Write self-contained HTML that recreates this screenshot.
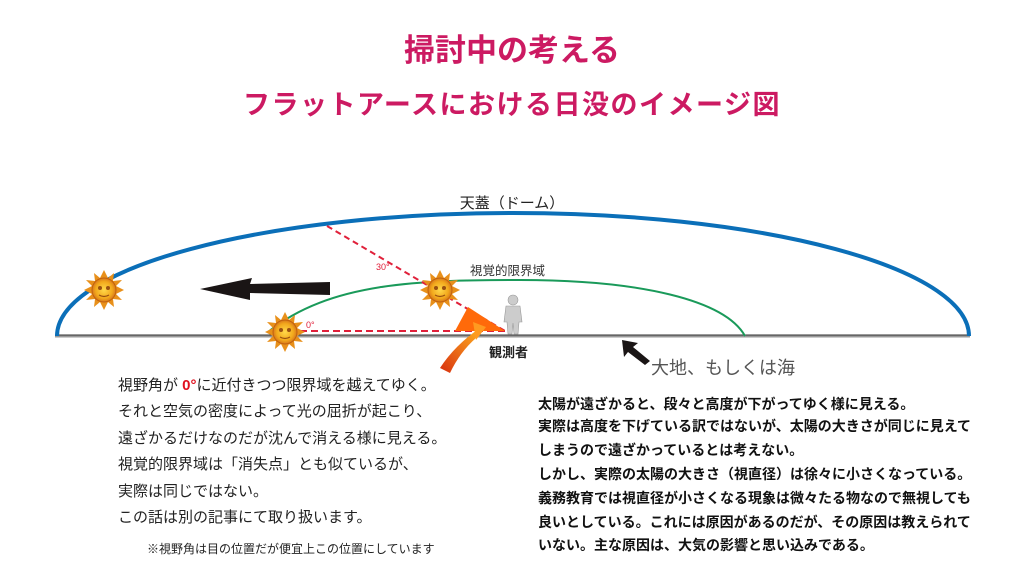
<!DOCTYPE html>
<html><head><meta charset="utf-8">
<style>
html,body{margin:0;padding:0;background:#fff;}
svg{display:block;}
text{font-family:"Liberation Sans","Noto Sans CJK JP",sans-serif;}
</style></head>
<body>
<svg width="1024" height="576" viewBox="0 0 1024 576" xmlns="http://www.w3.org/2000/svg">
<defs>
<radialGradient id="sg" cx="50%" cy="50%" r="50%">
<stop offset="0" stop-color="#ffd84a"/><stop offset="0.7" stop-color="#f2a81c"/><stop offset="1" stop-color="#d9781a"/>
</radialGradient>
<linearGradient id="og" x1="0" y1="1" x2="1" y2="0">
<stop offset="0" stop-color="#d8300f"/><stop offset="1" stop-color="#ffb020"/>
</linearGradient>
<g id="sun">
<polygon points="0,-20 4,-12 10,-17 9,-9 18,-10 12,-4 20,0 12,4 18,10 9,9 10,17 4,12 0,20 -4,12 -10,17 -9,9 -18,10 -12,4 -20,0 -12,-4 -18,-10 -9,-9 -10,-17 -4,-12" fill="#e8901a"/>
<circle r="12" fill="url(#sg)" stroke="#c06010" stroke-width="1"/>
<circle cx="-4" cy="-2" r="2" fill="#9a5010"/><circle cx="4" cy="-2" r="2" fill="#9a5010"/>
<path d="M-5 5 Q0 8 5 5" stroke="#9a5010" fill="none" stroke-width="1.2"/>
</g>
</defs>
<text x="512" y="61" text-anchor="middle" font-size="31" font-weight="bold" fill="#cc1a62">掃討中の考える</text>
<text x="512" y="114" text-anchor="middle" font-size="27" font-weight="bold" fill="#cc1a62" letter-spacing="1.5">フラットアースにおける日没のイメージ図</text>

<text x="512" y="208" text-anchor="middle" font-size="15" fill="#222">天蓋（ドーム）</text>
<line x1="55" y1="336" x2="970" y2="336" stroke="#999" stroke-width="3"/>
<line x1="55" y1="335" x2="970" y2="335" stroke="#333" stroke-width="1"/>
<path d="M57 336 A456 123 0 0 1 969 336" fill="none" stroke="#0b6fb8" stroke-width="4"/>
<path d="M268 332 C330 282 420 280 520 280 C640 280 725 300 745 336" fill="none" stroke="#1a9a5a" stroke-width="2"/>
<text x="470" y="275" font-size="12.5" fill="#333">視覚的限界域</text>
<line x1="300" y1="331" x2="505" y2="331" stroke="#e0203a" stroke-width="2" stroke-dasharray="7,4"/>
<line x1="327" y1="226" x2="505" y2="331" stroke="#e0203a" stroke-width="2" stroke-dasharray="6,4"/>
<text x="376" y="270" font-size="9" fill="#e0203a">30°</text>
<text x="306" y="328" font-size="9" fill="#e0203a">0°</text>
<polygon points="468,307 455,331 505,331" fill="#ff6a0a"/>
<path d="M440 368 Q455 345 480 328 L476 338 Q460 352 450 373 Z" fill="url(#og)"/>
<path d="M473 322 L486 327 L476 340 Z" fill="#ff9a20"/>
<g fill="#ccc" stroke="#999" stroke-width="0.6">
<circle cx="513" cy="300" r="5"/>
<path d="M506 306 L520 306 L522 322 L519 322 L518 334 L514 334 L513 323 L512 334 L508 334 L507 322 L504 322 Z"/>
</g>
<text x="489" y="357" font-size="13" font-weight="bold" fill="#222">観測者</text>
<polygon points="200,289 252,278 250,284 330,282 330,295 250,293 250,300" fill="#1a1515"/>
<polygon points="622,340 638,343 633,347 650,361 645,365 628,352 624,357" fill="#1a1515"/>
<text x="651" y="374" font-size="18" fill="#555">大地、もしくは海</text>
<use href="#sun" x="104" y="290"/>
<use href="#sun" x="285" y="332"/>
<use href="#sun" x="440" y="290"/>
<g font-size="15" fill="#222">
<text x="118" y="390">視野角が <tspan fill="#e0101e" font-weight="bold">0°</tspan>に近付きつつ限界域を越えてゆく。</text>
<text x="118" y="416">それと空気の密度によって光の屈折が起こり、</text>
<text x="118" y="443">遠ざかるだけなのだが沈んで消える様に見える。</text>
<text x="118" y="469">視覚的限界域は「消失点」とも似ているが、</text>
<text x="118" y="496">実際は同じではない。</text>
<text x="118" y="522">この話は別の記事にて取り扱います。</text>
<text x="147" y="553" font-size="12">※視野角は目の位置だが便宜上この位置にしています</text>
</g>
<g font-size="14" fill="#111" font-weight="bold">
<text x="538" y="409">太陽が遠ざかると、段々と高度が下がってゆく様に見える。</text>
<text x="538" y="431">実際は高度を下げている訳ではないが、太陽の大きさが同じに見えて</text>
<text x="538" y="455">しまうので遠ざかっているとは考えない。</text>
<text x="538" y="479">しかし、実際の太陽の大きさ（視直径）は徐々に小さくなっている。</text>
<text x="538" y="503">義務教育では視直径が小さくなる現象は微々たる物なので無視しても</text>
<text x="538" y="527">良いとしている。これには原因があるのだが、その原因は教えられて</text>
<text x="538" y="550">いない。主な原因は、大気の影響と思い込みである。</text>
</g>
</svg>
</body></html>
